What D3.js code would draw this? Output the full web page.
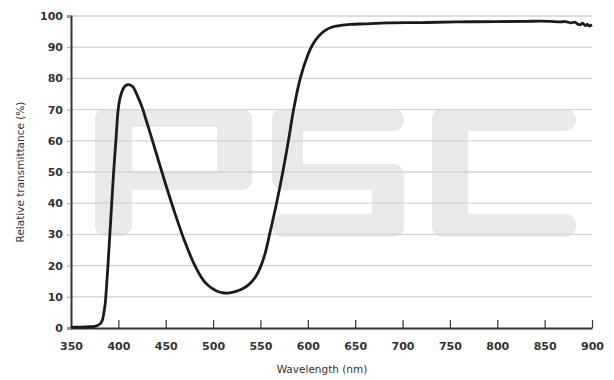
<!DOCTYPE html>
<html>
<head>
<meta charset="utf-8">
<script src="https://d3js.org/d3.v7.min.js"></script>
<style>
  body { margin: 0; background: #fff; }
  text { font-family: "DejaVu Sans", Verdana, sans-serif; }
</style>
</head>
<body>
<div id="chart"></div>
<script>
// transmittance curve, wavelength (nm) and relative transmittance (%)
var wavelength = [350, 360, 370, 375, 378, 381, 383, 384.5, 386, 387, 388, 389, 391, 393, 395, 397.4, 399.8, 402, 405, 408, 411,
  415, 420, 425, 430, 440, 450, 460, 470, 480, 490, 495, 500, 505, 510, 515, 520, 525, 530, 535, 540, 545, 550,
  555, 560, 567, 573.6, 579.5, 585, 592, 600, 605, 611, 618, 625, 635, 645, 660, 685, 720, 757, 800, 830, 855,
  865, 872, 878, 882, 885, 888, 890, 893, 895, 897, 900];
var transmittance = [0.3, 0.3, 0.4, 0.5, 0.8, 1.4, 2.4, 4.5, 7.5, 11, 15.5, 20, 30, 40, 50, 60, 70, 74, 76.6, 77.8, 78,
  77.4, 74.5, 70.8, 66, 56, 46, 36.5, 27.8, 20.5, 15.2, 13.6, 12.5, 11.7, 11.3, 11.2, 11.4, 11.8, 12.4, 13.3, 14.6, 16.5, 19.5,
  24, 30.5, 40, 50, 60, 70, 80, 87.5, 90.8, 93.4, 95.3, 96.4, 97.0, 97.3, 97.5, 97.8, 97.9, 98.1, 98.2, 98.3, 98.3,
  98.1, 98.2, 97.8, 98.0, 97.4, 97.2, 97.7, 96.9, 97.3, 96.8, 97.2];

var xTicks = [350, 400, 450, 500, 550, 600, 650, 700, 750, 800, 850, 900];
var yTicks = [0, 10, 20, 30, 40, 50, 60, 70, 80, 90, 100];

// "PSC" watermark blocks (decoration, pixel rects)
var watermark = [
  [95, 109, 37, 127], [95, 109, 157, 18], [217, 109, 35, 81], [95, 172, 157, 18],
  [272, 109, 132, 22], [272, 109, 31, 81], [272, 164, 132, 26], [372, 164, 32, 73], [272, 214, 132, 23],
  [432, 109, 144, 22], [432, 109, 36, 128], [432, 214, 144, 23]
];

var width = 614, height = 380;
var margin = {top: 16, right: 22, bottom: 52, left: 71};

var svg = d3.select("#chart").append("svg")
  .attr("width", width)
  .attr("height", height);

var x = d3.scaleLinear().domain([350, 900]).range([margin.left, width - margin.right]);
var y = d3.scaleLinear().domain([0, 100]).range([height - margin.bottom, margin.top]);

// watermark
svg.append("g").selectAll("rect")
  .data(watermark)
  .enter().append("rect")
  .attr("x", d => d[0]).attr("y", d => d[1])
  .attr("width", d => d[2]).attr("height", d => d[3])
  .attr("rx", 11)
  .attr("fill", "#e9e9e9");

// grid lines
svg.append("g").selectAll("line")
  .data(yTicks.filter(d => d > 0))
  .enter().append("line")
  .attr("x1", x(350)).attr("x2", x(900))
  .attr("y1", d => y(d)).attr("y2", d => y(d))
  .attr("stroke", "#d2d2d2")
  .attr("stroke-width", 1.3);

// y axis
var yAxis = svg.append("g")
  .attr("transform", "translate(" + x(350) + ",0)")
  .call(d3.axisLeft(y).tickValues(yTicks).tickSize(4).tickPadding(4));
yAxis.select(".domain").attr("stroke", "#333").attr("stroke-width", 2);
yAxis.selectAll(".tick line").attr("stroke", "#999");
yAxis.selectAll(".tick text")
  .attr("fill", "#333").attr("font-size", 11).attr("font-weight", "bold")
  .attr("font-family", "DejaVu Sans, Verdana, sans-serif");

// x axis, ticks pointing up
var xAxis = svg.append("g")
  .attr("transform", "translate(0," + y(0) + ")")
  .call(d3.axisBottom(x).tickValues(xTicks).tickSizeInner(-8).tickSizeOuter(0).tickPadding(14));
xAxis.select(".domain").attr("stroke", "#333").attr("stroke-width", 2);
xAxis.selectAll(".tick line").attr("stroke", "#333").attr("stroke-width", 1.2);
xAxis.selectAll(".tick").filter(d => d === 350).select("line").remove();
xAxis.selectAll(".tick text")
  .attr("fill", "#333").attr("font-size", 11).attr("font-weight", "bold")
  .attr("font-family", "DejaVu Sans, Verdana, sans-serif");

// curve
var pts = wavelength.map((w, i) => [w, transmittance[i]]);
svg.append("path")
  .datum(pts)
  .attr("fill", "none")
  .attr("stroke", "#1b1b1b")
  .attr("stroke-width", 2.8)
  .attr("stroke-linejoin", "round")
  .attr("d", d3.line().x(d => x(d[0])).y(d => y(d[1])).curve(d3.curveCatmullRom.alpha(0.5)));

// axis titles
svg.append("text")
  .attr("x", 322).attr("y", 373)
  .attr("text-anchor", "middle")
  .attr("font-size", 10.5).attr("fill", "#333")
  .text("Wavelength (nm)");

svg.append("text")
  .attr("transform", "translate(24," + (y(50)) + ") rotate(-90)")
  .attr("text-anchor", "middle")
  .attr("font-size", 10.5).attr("fill", "#333")
  .text("Relative transmittance (%)");
</script>
</body>
</html>
